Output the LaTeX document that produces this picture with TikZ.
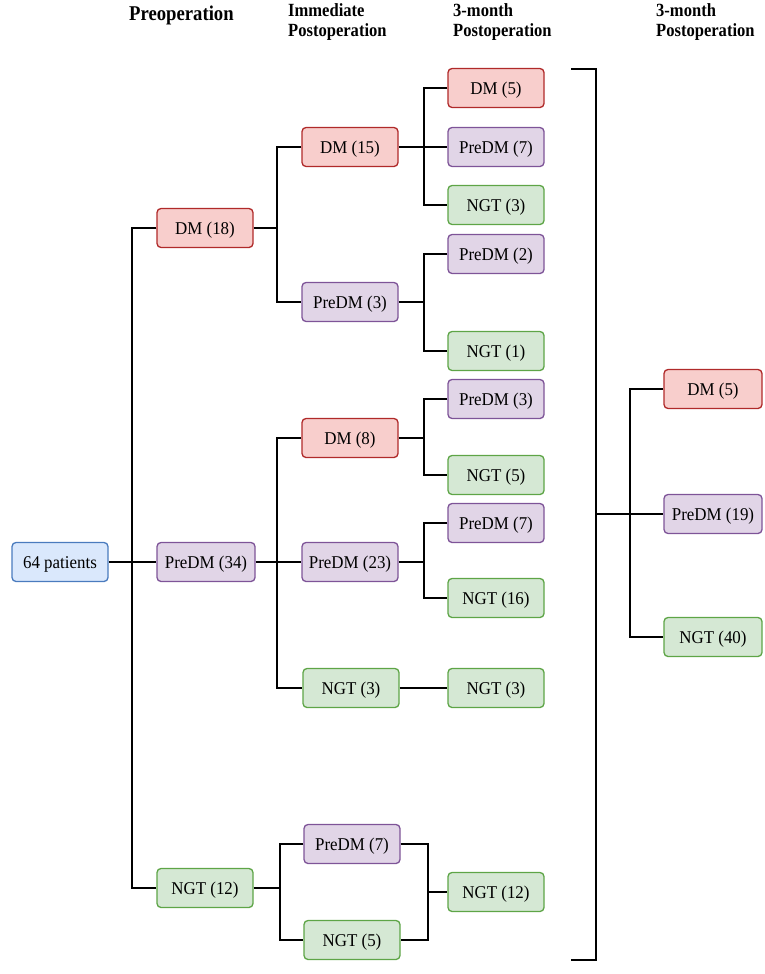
\documentclass[tikz,border=0pt]{standalone}
\usepackage{fontspec}
\setmainfont{Liberation Serif}
\newfontfamily\headfont[FakeStretch=0.89]{Liberation Serif}
\newfontfamily\boxfont[FakeStretch=0.94]{Liberation Serif}
\usetikzlibrary{calc}
\definecolor{redf}{HTML}{F8CECC}\definecolor{redd}{HTML}{B02A2A}
\definecolor{purf}{HTML}{E1D5E7}\definecolor{purd}{HTML}{7E5498}
\definecolor{grnf}{HTML}{D5E8D4}\definecolor{grnd}{HTML}{5EA547}
\definecolor{bluf}{HTML}{DAE8FC}\definecolor{blud}{HTML}{4A7BBE}
\tikzset{
  box/.style={draw, rounded corners=4pt, line width=1.3pt, minimum width=96pt, minimum height=39pt,
    inner sep=0pt, text height=12pt, text depth=0pt, font=\boxfont\fontsize{18}{20}\selectfont},
  rbox/.style={box, fill=redf, draw=redd},
  pbox/.style={box, fill=purf, draw=purd},
  gbox/.style={box, fill=grnf, draw=grnd},
  bbox/.style={box, fill=bluf, draw=blud},
  conn/.style={draw=black, line width=1.8pt},
  head/.style={anchor=base west, inner sep=0pt, font=\headfont\bfseries\fontsize{18.6}{20}\selectfont},
}
\begin{document}
\begin{tikzpicture}[x=1pt,y=-1pt]
\useasboundingbox (0,0) rectangle (765,974);
% headers
\node[anchor=base west, inner sep=0pt, font=\headfont\bfseries\fontsize{21}{23}\selectfont] (h1) at (129,21) {Preoperation};
\node[head] (h2a) at (288,17) {Immediate};
\node[head] (h2b) at (288,37) {Postoperation};
\node[head] (h3a) at (453,17) {3-month};
\node[head] (h3b) at (453,37) {Postoperation};
\node[head] (h4a) at (656,17) {3-month};
\node[head] (h4b) at (656,37) {Postoperation};
% column 0/1
\node[bbox] (p64) at (60,562) {64 patients};
\node[rbox] (d18) at (205,228) {DM (18)};
\node[pbox, minimum width=98pt] (pd34) at (206,562) {PreDM (34)};
\node[gbox] (n12) at (205,888) {NGT (12)};
% column 2
\node[rbox] (d15) at (350,147) {DM (15)};
\node[pbox] (pd3) at (350,302) {PreDM (3)};
\node[rbox] (d8) at (350,438) {DM (8)};
\node[pbox] (pd23) at (350,562) {PreDM (23)};
\node[gbox] (n3a) at (351,688) {NGT (3)};
\node[pbox] (pd7b) at (352,844) {PreDM (7)};
\node[gbox] (n5) at (352,940) {NGT (5)};
% column 3
\node[rbox] (d5a) at (496,88) {DM (5)};
\node[pbox] (pd7a) at (496,147) {PreDM (7)};
\node[gbox] (n3b) at (496,205) {NGT (3)};
\node[pbox] (pd2) at (496,254) {PreDM (2)};
\node[gbox] (n1) at (496,351) {NGT (1)};
\node[pbox] (pd3c) at (496,399) {PreDM (3)};
\node[gbox] (n5c) at (496,475) {NGT (5)};
\node[pbox] (pd7c) at (496,523) {PreDM (7)};
\node[gbox] (n16) at (496,598) {NGT (16)};
\node[gbox] (n3c) at (496,688) {NGT (3)};
\node[gbox] (n12r) at (496,892) {NGT (12)};
% column 4
\node[rbox, minimum width=98pt] (dm5r) at (713,389) {DM (5)};
\node[pbox, minimum width=98pt] (pd19) at (713,514) {PreDM (19)};
\node[gbox, minimum width=98pt] (n40) at (713,637) {NGT (40)};
% junctions
\coordinate (j0) at (132,562);
\coordinate (j1) at (277,228);
\coordinate (j2) at (277,562);
\coordinate (j3) at (280,888);
\coordinate (j3r) at (428,892);
\coordinate (j4) at (424,147);
\coordinate (j5) at (424,302);
\coordinate (j6) at (424,438);
\coordinate (j7) at (424,562);
\coordinate (bt) at (571,69);
\coordinate (bm) at (596,514);
\coordinate (bb) at (571,960);
\coordinate (j8) at (630,514);
% connectors
\draw[conn] (p64.east) -- (pd34.west);
\draw[conn] (d18.west) -| (j0) |- (n12.west);
\draw[conn] (d18.east) -- (j1);
\draw[conn] (d15.west) -| (j1) |- (pd3.west);
\draw[conn] (pd34.east) -- (pd23.west);
\draw[conn] (d8.west) -| (j2) |- (n3a.west);
\draw[conn] (n12.east) -- (j3);
\draw[conn] (pd7b.west) -| (j3) |- (n5.west);
\draw[conn] (pd7b.east) -| (j3r) |- (n5.east);
\draw[conn] (j3r) -- (n12r.west);
\draw[conn] (d15.east) -- (pd7a.west);
\draw[conn] (d5a.west) -| (j4) |- (n3b.west);
\draw[conn] (pd3.east) -- (j5);
\draw[conn] (pd2.west) -| (j5) |- (n1.west);
\draw[conn] (d8.east) -- (j6);
\draw[conn] (pd3c.west) -| (j6) |- (n5c.west);
\draw[conn] (pd23.east) -- (j7);
\draw[conn] (pd7c.west) -| (j7) |- (n16.west);
\draw[conn] (n3a.east) -- (n3c.west);
\draw[conn] (bt) -| (bm) |- (bb);
\draw[conn] (bm) -- (pd19.west);
\draw[conn] (dm5r.west) -| (j8) |- (n40.west);
\end{tikzpicture}
\end{document}
